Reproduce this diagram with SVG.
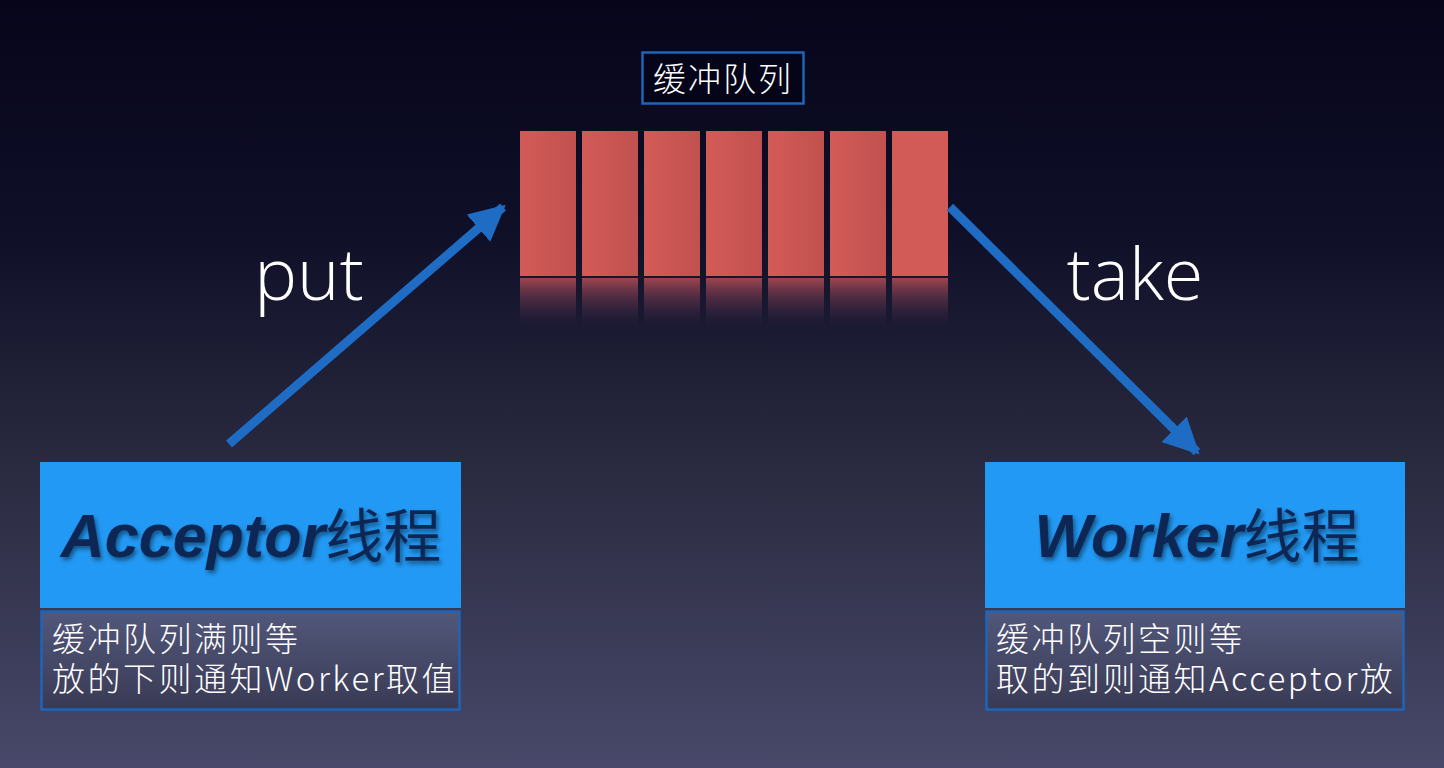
<svg xmlns="http://www.w3.org/2000/svg" width="1444" height="768" viewBox="0 0 1444 768">
<defs>
<linearGradient id="bg" x1="0" y1="0" x2="0" y2="1">
<stop offset="0" stop-color="#06051a"/>
<stop offset="0.3" stop-color="#0f0f28"/>
<stop offset="0.6" stop-color="#29293f"/>
<stop offset="1" stop-color="#48496a"/>
</linearGradient>
<linearGradient id="cell" x1="0" y1="0" x2="1" y2="0">
<stop offset="0" stop-color="#d35b57"/>
<stop offset="1" stop-color="#c1514f"/>
</linearGradient>
<linearGradient id="refl" x1="0" y1="0" x2="0" y2="1">
<stop offset="0" stop-color="#b54d55" stop-opacity="0.85"/>
<stop offset="1" stop-color="#3a2a50" stop-opacity="0"/>
</linearGradient>
<linearGradient id="sub" x1="0" y1="0" x2="0" y2="1">
<stop offset="0" stop-color="#52587b"/>
<stop offset="1" stop-color="#393a54"/>
</linearGradient>
<marker id="ah" viewBox="0 0 10 10" refX="9" refY="5" markerWidth="4" markerHeight="4" markerUnits="strokeWidth" orient="auto">
<path d="M0,0 L10,5 L0,10 z" fill="#1e6cc4"/>
</marker>
<filter id="sh" x="-10%" y="-20%" width="120%" height="140%">
<feDropShadow dx="2" dy="3" stdDeviation="2" flood-color="#000" flood-opacity="0.45"/>
</filter>
</defs>
<style>
.cell{fill:url(#cell)}
.refl{fill:url(#refl)}
.main{fill:#2299f4}
.subbox{fill:url(#sub);stroke:#1d65bb;stroke-width:2.5}
.title{font-family:"Liberation Sans","Noto Sans CJK SC",sans-serif;font-weight:bold;font-style:italic;font-size:61px;fill:#0b2752;filter:url(#sh)}
.tc{font-family:"Noto Sans CJK SC",sans-serif;font-weight:normal;font-style:normal;font-size:58px}
.cjk{font-family:"Noto Sans CJK SC","Noto Sans",sans-serif;font-weight:300;font-size:33px;letter-spacing:2.5px;fill:#ffffff}
.lbl{font-family:"Noto Sans CJK SC","Noto Sans",sans-serif;font-weight:300;font-size:33px;letter-spacing:2px;fill:#ffffff}
.big{font-family:"Open Sans","Roboto","Liberation Sans",sans-serif;font-weight:300;font-size:72px;fill:#ffffff}
.conn{stroke:#1e6cc4;stroke-width:9;fill:none;marker-end:url(#ah)}
</style>
<rect x="0" y="0" width="1444" height="768" fill="url(#bg)"/>

<g id="queue-label">
<rect x="642.5" y="52.5" width="161" height="51" fill="#05051a" stroke="#1f64b6" stroke-width="2.5"/>
<text class="lbl" x="723" y="91" text-anchor="middle">缓冲队列</text>
</g>

<g id="queue">
<rect class="cell" x="520" y="131" width="56" height="145"/>
<rect class="cell" x="582" y="131" width="56" height="145"/>
<rect class="cell" x="644" y="131" width="56" height="145"/>
<rect class="cell" x="706" y="131" width="56" height="145"/>
<rect class="cell" x="768" y="131" width="56" height="145"/>
<rect class="cell" x="830" y="131" width="56" height="145"/>
<rect x="892" y="131" width="56" height="145" fill="#d35b57"/>
<rect class="refl" x="520" y="278" width="56" height="50"/>
<rect class="refl" x="582" y="278" width="56" height="50"/>
<rect class="refl" x="644" y="278" width="56" height="50"/>
<rect class="refl" x="706" y="278" width="56" height="50"/>
<rect class="refl" x="768" y="278" width="56" height="50"/>
<rect class="refl" x="830" y="278" width="56" height="50"/>
<rect class="refl" x="892" y="278" width="56" height="50"/>
</g>

<g id="connectors">
<line class="conn" x1="229" y1="444" x2="503" y2="207"/>
<line class="conn" x1="950" y1="207" x2="1197" y2="452"/>
<text class="big" x="309" y="300" text-anchor="middle">put</text>
<text class="big" x="1135" y="300" text-anchor="middle">take</text>
</g>

<g id="acceptor">
<rect class="main" x="40" y="462" width="421" height="146"/>
<text class="title" x="251" y="557" text-anchor="middle">Acceptor<tspan class="tc">线程</tspan></text>
<rect class="subbox" x="41.5" y="611.5" width="418" height="98"/>
<text class="cjk" x="52" y="651">缓冲队列满则等</text>
<text class="cjk" x="52" y="691">放的下则通知Worker取值</text>
</g>

<g id="worker">
<rect class="main" x="985" y="462" width="420" height="146"/>
<text class="title" x="1197" y="557" text-anchor="middle">Worker<tspan class="tc">线程</tspan></text>
<rect class="subbox" x="986.5" y="611.5" width="417" height="98"/>
<text class="cjk" x="996" y="651">缓冲队列空则等</text>
<text class="cjk" x="996" y="691">取的到则通知Acceptor放</text>
</g>
</svg>
